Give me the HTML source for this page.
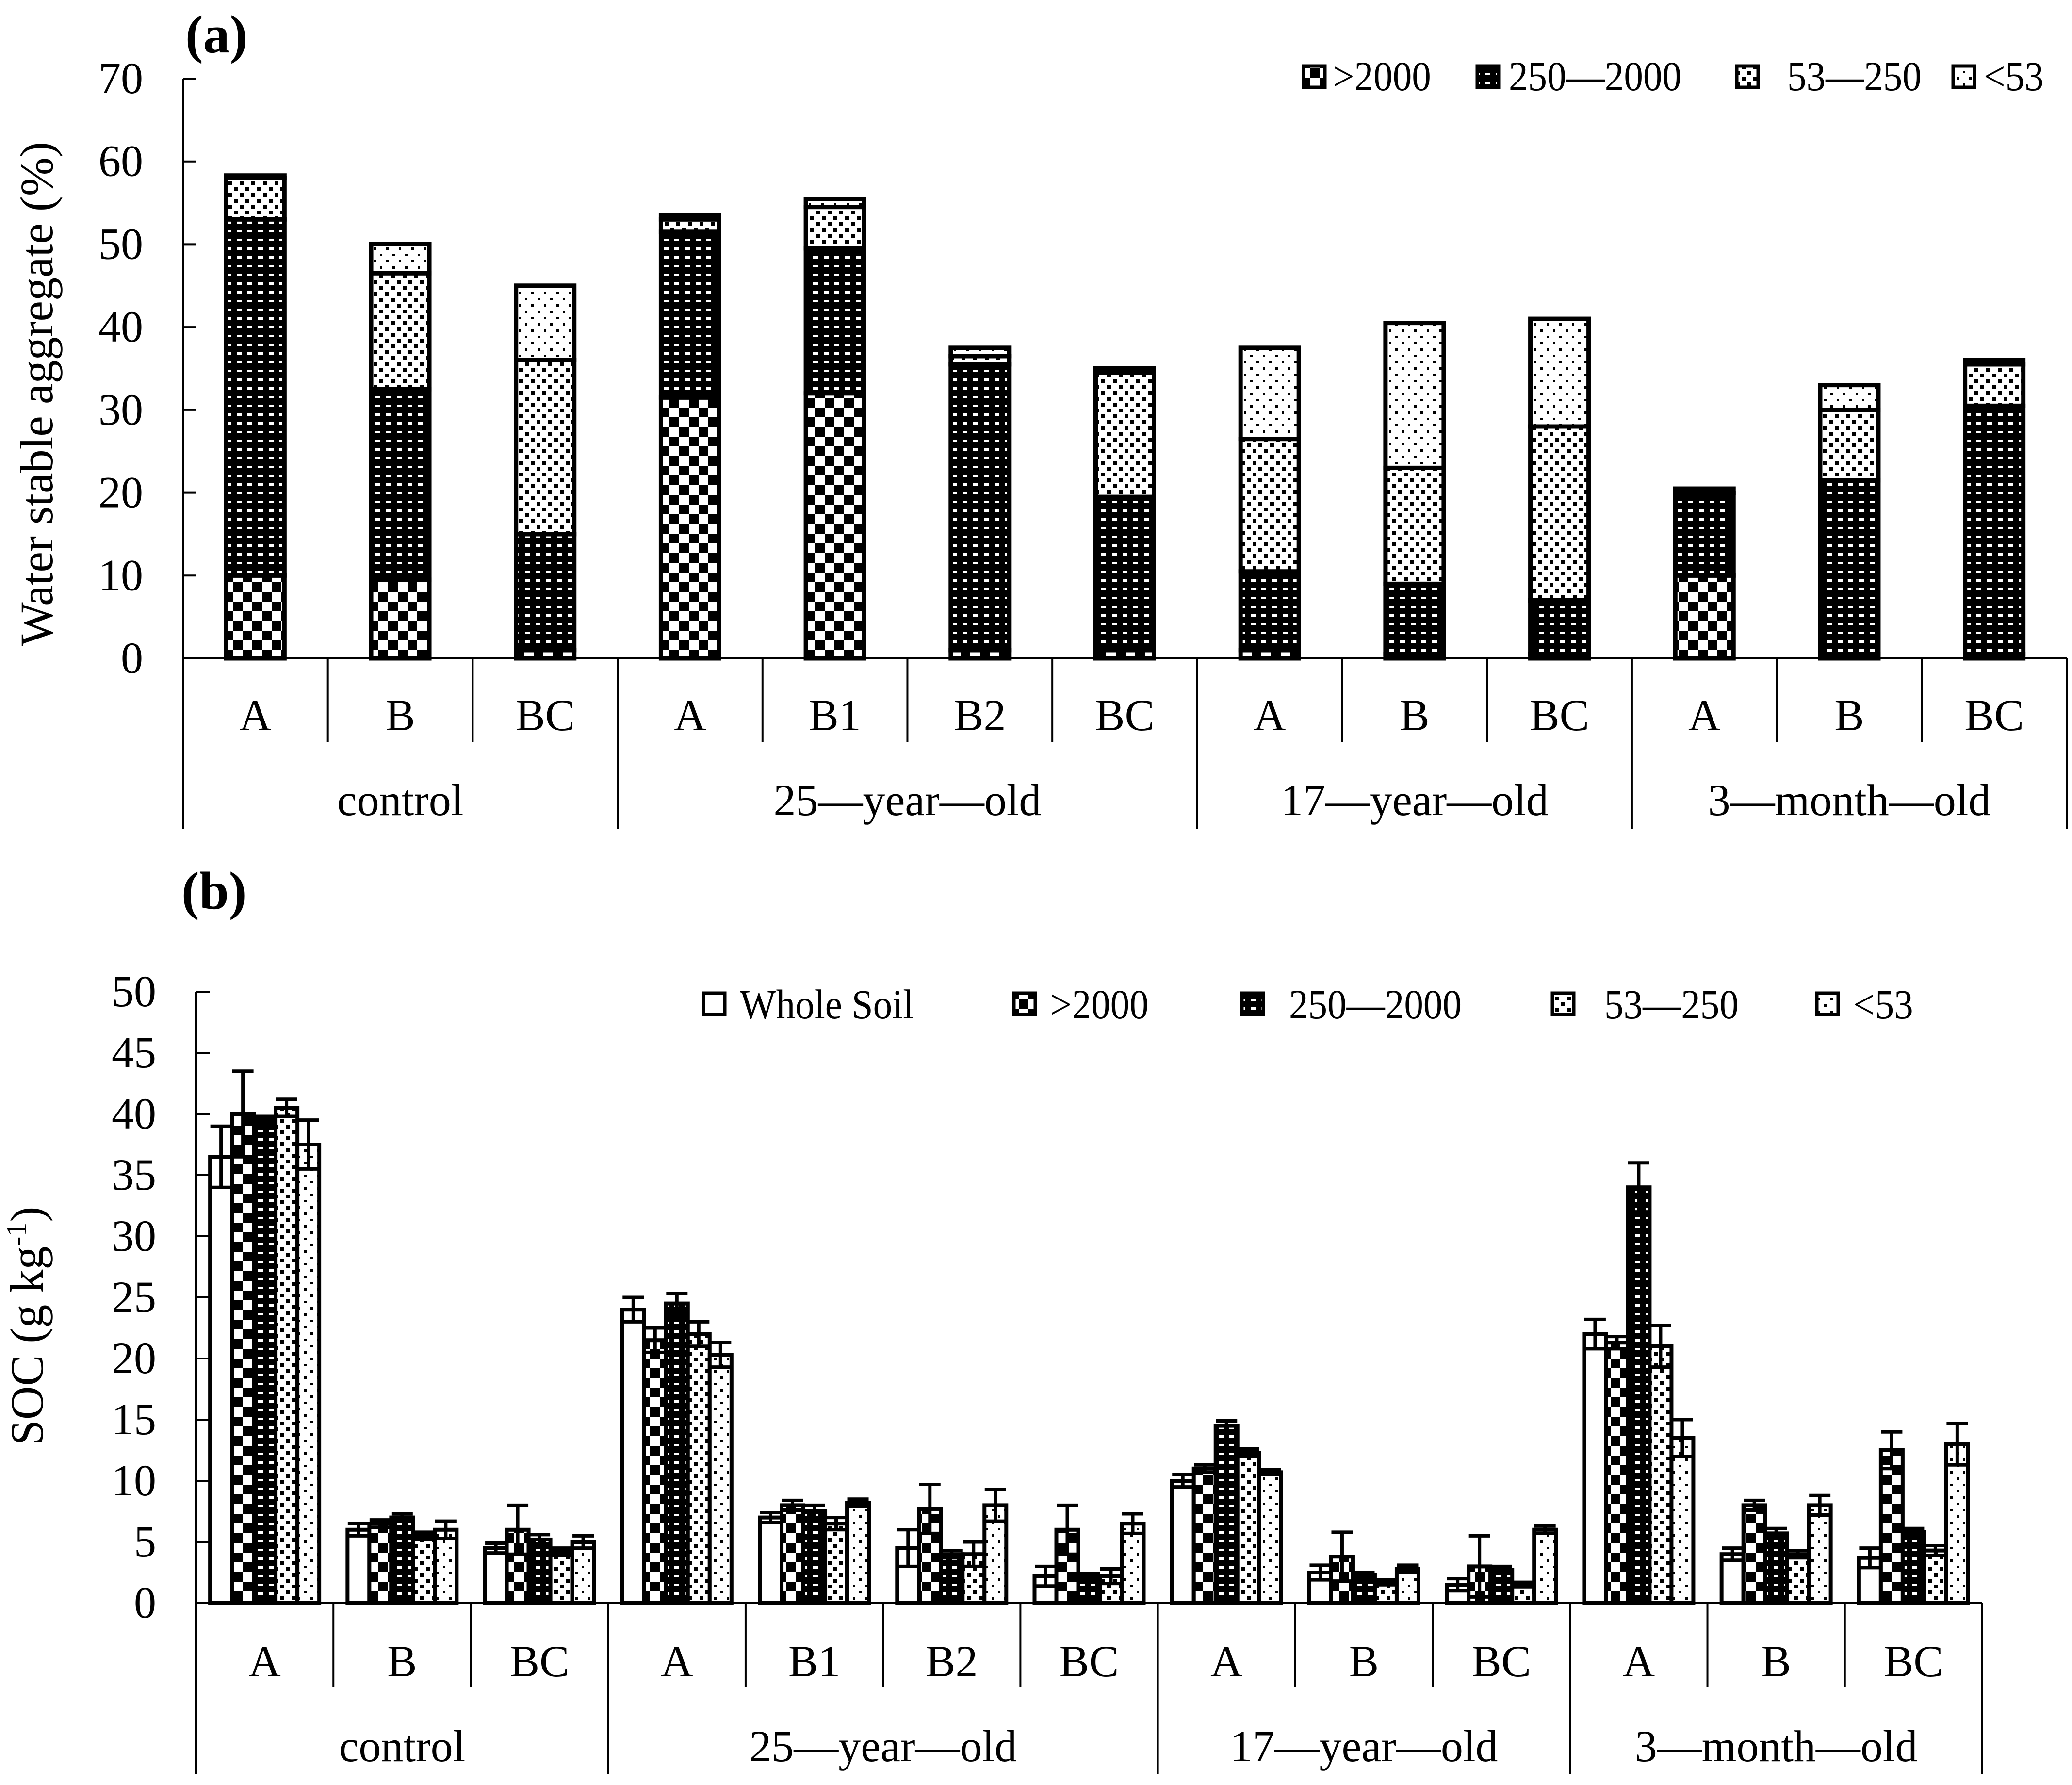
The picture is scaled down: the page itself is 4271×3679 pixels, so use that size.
<!DOCTYPE html>
<html><head><meta charset="utf-8"><style>
html,body{margin:0;padding:0;background:#fff;}
svg{display:block;font-family:"Liberation Serif",serif;}
</style></head><body>
<svg id="chart" xmlns="http://www.w3.org/2000/svg" width="4271" height="3679" viewBox="0 0 4271 3679">
<defs>
<pattern id="pChk" width="40" height="40" patternUnits="userSpaceOnUse"><rect width="40" height="40" fill="#fff"/><rect width="20" height="20" fill="#000"/><rect x="20" y="20" width="20" height="20" fill="#000"/></pattern>
<pattern id="pDash" width="22" height="18" patternUnits="userSpaceOnUse"><rect width="22" height="18" fill="#000"/><rect x="4" y="6" width="10" height="5" fill="#fff"/></pattern>
<pattern id="pDense" width="24" height="24" patternUnits="userSpaceOnUse"><rect width="24" height="24" fill="#fff"/><rect x="2" y="2" width="8" height="8" fill="#000"/><rect x="14" y="14" width="8" height="8" fill="#000"/></pattern>
<pattern id="pSparse" width="26" height="26" patternUnits="userSpaceOnUse"><rect width="26" height="26" fill="#fff"/><rect x="3" y="3" width="5" height="5" fill="#000"/><rect x="16" y="16" width="5" height="5" fill="#000"/></pattern>
</defs>
<g id="pa"></g><g id="pb"></g>
</svg>
<script>
// Panel (a) data
const catsA = ["A","B","BC","A","B1","B2","BC","A","B","BC","A","B","BC"];
const groupsA = ["control","25—year—old","17—year—old","3—month—old"];
const groupBounds = [0,3,7,10,13];
const seriesNames = [">2000","250—2000","53—250","<53"];
const aggGt2000 = [10,9.5,1,31.5,32,1,1,1,0.5,0.5,10,0.5,0.5];
const agg250 = [43,23,14,20,17.5,34.5,18.5,9.5,8.5,6.5,10,21,30];
const agg53 = [5,14,21,1.5,5,1,15,16,14,21,0.5,8.5,5];
const aggLt53 = [0.3,3.5,9,0.5,1,1,0.5,11,17.5,13,0,3,0.5];
const ticksA = [0,10,20,30,40,50,60,70];
// Panel (b) data
const socWhole = [36.5,6,4.5,24,7,4.5,2.2,10,2.5,1.5,22,4,3.7];
const socWholeErr = [2.5,0.5,0.4,1,0.4,1.5,0.8,0.5,0.6,0.5,1.2,0.5,0.8];
const socGt2000 = [40,6.5,6,21.5,8,7.7,6,11,3.8,3,21.3,8,12.5];
const socGt2000Err = [3.5,0.3,2,1,0.4,2,2,0.3,2,2.5,0.5,0.4,1.5];
const soc250 = [39.5,7,5.2,24.5,7.5,4,2.2,14.5,2.3,2.7,34,5.7,5.8];
const soc250Err = [0.3,0.3,0.4,0.8,0.5,0.3,0.2,0.4,0.2,0.3,2,0.4,0.3];
const soc53 = [40.5,5.5,4.2,22,6.5,4,2.2,12.3,1.7,1.5,21,4,4.3];
const soc53Err = [0.7,0.3,0.3,1,0.5,1,0.6,0.3,0.2,0.2,1.7,0.3,0.4];
const socLt53 = [37.5,6,5,20.3,8.2,8,6.5,10.7,2.8,6,13.5,8,13];
const socLt53Err = [2,0.7,0.5,1,0.3,1.3,0.8,0.2,0.3,0.3,1.5,0.8,1.7];
const ticksB = [0,5,10,15,20,25,30,35,40,45,50];

const NS="http://www.w3.org/2000/svg";
function mk(parent,tag,attrs,text){const e=document.createElementNS(NS,tag);for(const k in attrs)e.setAttribute(k,attrs[k]);if(text!==undefined)e.textContent=text;parent.appendChild(e);return e;}
const fills=["url(#pChk)","url(#pDash)","url(#pDense)","url(#pSparse)"];

// ---- Panel a ----
const ga=document.getElementById('pa');
const ax={x0:377,x1:4260,y0:1357,y1:162,max:70};
const cwA=(ax.x1-ax.x0)/13;
const yA=v=>ax.y0-(v/ax.max)*(ax.y0-ax.y1);
const xA=i=>ax.x0+cwA*(i+0.5);
let t=mk(ga,'text',{x:382,y:108,'font-size':110,'font-weight':'bold'},'(a)');

const segsA=[aggGt2000,agg250,agg53,aggLt53];
catsA.forEach((c,i)=>{
  let base=0;
  segsA.forEach((arr,s)=>{
    const v=arr[i]; if(v<=0)return;
    const r=mk(ga,'rect',{x:xA(i)-60,y:yA(base+v),width:120,height:yA(base)-yA(base+v),fill:fills[s],stroke:'#000','stroke-width':9});
    
    base+=v;
  });
  const l=mk(ga,'text',{x:xA(i),y:1505,'font-size':92,'text-anchor':'middle'},c);
  
});
let axl=mk(ga,'path',{d:`M${ax.x0},${ax.y1}V${ax.y0}H${ax.x1}`,stroke:'#000','stroke-width':4,fill:'none'});

ticksA.forEach(v=>{
  mk(ga,'line',{x1:ax.x0,x2:ax.x0+28,y1:yA(v),y2:yA(v),stroke:'#000','stroke-width':4});
  const tl=mk(ga,'text',{x:295,y:yA(v)+30,'font-size':92,'text-anchor':'end'},v);
  
});
for(let i=0;i<=13;i++){
  const isG=groupBounds.includes(i);
  mk(ga,'line',{x1:ax.x0+cwA*i,x2:ax.x0+cwA*i,y1:ax.y0,y2:isG?1708:1530,stroke:'#000','stroke-width':4});
}
groupsA.forEach((g,k)=>{
  const xm=(ax.x0+cwA*groupBounds[k]+ax.x0+cwA*groupBounds[k+1])/2;
  const gl=mk(ga,'text',{x:xm,y:1680,'font-size':92,'text-anchor':'middle'},g);
  
});
t=mk(ga,'text',{x:0,y:0,'font-size':96,'text-anchor':'middle',transform:'translate(108,812) rotate(-90)'},'Water stable aggregate (%)');

const legA=[[2687,2747],[3045,3110],[3580,3684],[4026,4089]];
seriesNames.forEach((n,s)=>{
  const sw=mk(ga,'rect',{x:legA[s][0],y:136,width:44,height:44,fill:fills[s],stroke:'#000','stroke-width':7});
  
  const lt=mk(ga,'text',{x:legA[s][1],y:186,'font-size':86,transform:`translate(${legA[s][1]*0.08},0) scale(0.92,1)`},n);
  
});

// ---- Panel b ----
const gb=document.getElementById('pb');
const bx={x0:404,x1:4086,y0:3304,y1:2044,max:50};
const cwB=(bx.x1-bx.x0)/13;
const yB=v=>bx.y0-(v/bx.max)*(bx.y0-bx.y1);
const xB=i=>bx.x0+cwB*(i+0.5);
t=mk(gb,'text',{x:374,y:1873,'font-size':110,'font-weight':'bold'},'(b)');

const valsB=[socWhole,socGt2000,soc250,soc53,socLt53];
const errsB=[socWholeErr,socGt2000Err,soc250Err,soc53Err,socLt53Err];
const fillsB=["#fff"].concat(fills);
const bw=45;
catsA.forEach((c,i)=>{
  valsB.forEach((arr,s)=>{
    const v=arr[i], bxl=xB(i)-2.5*bw+s*bw;
    const r=mk(gb,'rect',{x:bxl,y:yB(v),width:bw,height:yB(0)-yB(v),fill:fillsB[s],stroke:'#000','stroke-width':8});
    
    const e=errsB[s][i], cx=bxl+bw/2;
    const eb=mk(gb,'path',{d:`M${cx},${yB(v+e)}V${yB(v-e)}M${cx-22},${yB(v+e)}H${cx+22}M${cx-22},${yB(v-e)}H${cx+22}`,stroke:'#000','stroke-width':7,fill:'none'});
    
  });
  const l=mk(gb,'text',{x:xB(i),y:3455,'font-size':92,'text-anchor':'middle'},c);
  
});
axl=mk(gb,'path',{d:`M${bx.x0},${bx.y1}V${bx.y0}H${bx.x1}`,stroke:'#000','stroke-width':4,fill:'none'});

ticksB.forEach(v=>{
  mk(gb,'line',{x1:bx.x0,x2:bx.x0+28,y1:yB(v),y2:yB(v),stroke:'#000','stroke-width':4});
  const tl=mk(gb,'text',{x:322,y:yB(v)+30,'font-size':92,'text-anchor':'end'},v);
  
});
for(let i=0;i<=13;i++){
  const isG=groupBounds.includes(i);
  mk(gb,'line',{x1:bx.x0+cwB*i,x2:bx.x0+cwB*i,y1:bx.y0,y2:isG?3657:3477,stroke:'#000','stroke-width':4});
}
groupsA.forEach((g,k)=>{
  const xm=(bx.x0+cwB*groupBounds[k]+bx.x0+cwB*groupBounds[k+1])/2;
  const gl=mk(gb,'text',{x:xm,y:3630,'font-size':92,'text-anchor':'middle'},g);
  
});
t=mk(gb,'text',{x:0,y:0,'font-size':96,'text-anchor':'middle',transform:'translate(88,2733) rotate(-90)'});

t.appendChild(document.createTextNode('SOC (g kg'));
mk(t,'tspan',{'font-size':60,dy:-34},'-1');
mk(t,'tspan',{dy:34},')');
const legBNames=["Whole Soil"].concat(seriesNames);
const legB=[[1450,1525],[2090,2165],[2560,2657],[3200,3307],[3745,3820]];
legBNames.forEach((n,s)=>{
  const sw=mk(gb,'rect',{x:legB[s][0],y:2047,width:44,height:44,fill:fillsB[s],stroke:'#000','stroke-width':7});
  
  const lt=mk(gb,'text',{x:legB[s][1],y:2099,'font-size':86,transform:`translate(${legB[s][1]*0.08},0) scale(0.92,1)`},n);
  
});
</script>
</body></html>
